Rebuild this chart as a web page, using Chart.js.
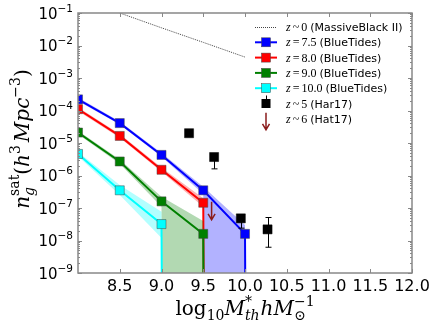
<!DOCTYPE html>
<html>
<head>
<meta charset="utf-8">
<script src="https://cdn.jsdelivr.net/npm/chart.js@4.4.0/dist/chart.umd.min.js"></script>
<style>
  html, body { margin: 0; padding: 0; background: #fff; }
  #wrap { width: 436px; height: 327px; }
</style>
</head>
<body>
<div id="wrap"><canvas id="myChart" width="436" height="327"></canvas></div>
<script>
// mass bins (log10 M*_th)
var massBins = [8.0, 8.5, 9.0, 9.5, 10.0, 10.5];
// empty bin: matplotlib clips 0 on a log axis, which gives the vertical drop
var NONE = 1e-250;

// BlueTides satellite densities, with band edges
var z75 = [2.2e-4, 4.1e-5, 4.3e-6, 3.5e-7, 1.6e-8, NONE];
var z75Hi = [2.5e-4, 4.6e-5, 4.9e-6, 4.5e-7, 3.0e-8, NONE];
var z75Lo = [1.95e-4, 3.7e-5, 3.8e-6, 2.7e-7, NONE, NONE];

var z80 = [1.1e-4, 1.65e-5, 1.5e-6, 1.45e-7, NONE, NONE];
var z80Hi = [1.25e-4, 1.9e-5, 1.75e-6, 2.0e-7, NONE, NONE];
var z80Lo = [0.97e-4, 1.45e-5, 1.3e-6, 1.1e-7, NONE, NONE];

var z90 = [2.1e-5, 2.7e-6, 1.6e-7, 1.6e-8, NONE, NONE];
var z90Hi = [2.4e-5, 3.1e-6, 2.2e-7, 4.0e-8, NONE, NONE];
var z90Lo = [1.85e-5, 2.3e-6, 1.1e-7, NONE, NONE, NONE];

var z100 = [4.6e-6, 3.5e-7, 3.2e-8, NONE, NONE, NONE];
var z100Hi = [5.3e-6, 5.1e-7, 7.6e-8, NONE, NONE, NONE];
var z100Lo = [3.9e-6, 2.5e-7, 1.2e-8, NONE, NONE, NONE];

// MassiveBlack II, z~0
var mbX = [8.5, 9.0, 9.5, 10.0];
var mbY = [0.1, 0.035, 0.0125, 0.0044];

// Har17 z~5 with errors
var har17X = [9.33, 9.63, 9.95, 10.27];
var har17Y = [2.0e-5, 3.7e-6, 4.8e-8, 2.2e-8];
var har17Lo = [1.8e-5, 1.6e-6, 2.4e-8, 6.2e-9];
var har17Hi = [2.2e-5, 4.5e-6, 5.5e-8, 5.1e-8];

// Hat17 z~6 upper limit
var hat17X = [9.6];
var hat17Y = [1.55e-7];

// ticks
var xTicks = [8.5, 9.0, 9.5, 10.0, 10.5, 11.0, 11.5, 12.0];
var xTickLabels = ['8.5', '9.0', '9.5', '10.0', '10.5', '11.0', '11.5', '12.0'];
var yExponents = [-1, -2, -3, -4, -5, -6, -7, -8, -9];

// legend text
var legendZ = ['0', '7.5', '8.0', '9.0', '10.0', '5', '6'];
var legendRel = ['~', '=', '=', '=', '=', '~', '~'];
var legendSrc = ['MassiveBlack II', 'BlueTides', 'BlueTides', 'BlueTides', 'BlueTides', 'Har17', 'Hat17'];

var SANS = '"DejaVu Sans", sans-serif';
var SERIF = '"DejaVu Serif", serif';
var MATH = '"Liberation Serif", serif';

function pts(xs, ys) {
  return ys.map(function(y, i) { return {x: xs[i], y: y}; });
}

var blueTides = [
  {vals: z75, hi: z75Hi, lo: z75Lo, color: '#0000ff', band: 'rgba(0,0,255,0.3)'},
  {vals: z80, hi: z80Hi, lo: z80Lo, color: '#ff0000', band: 'rgba(255,0,0,0.3)'},
  {vals: z90, hi: z90Hi, lo: z90Lo, color: '#008000', band: 'rgba(0,128,0,0.3)'},
  {vals: z100, hi: z100Hi, lo: z100Lo, color: '#00ffff', band: 'rgba(0,255,255,0.3)'}
];

var datasets = [];
datasets.push({
  data: pts(mbX, mbY), borderColor: '#444', borderWidth: 1, borderDash: [1, 1],
  pointRadius: 0, fill: false
});
blueTides.forEach(function(s) {
  datasets.push({data: pts(massBins, s.hi), borderColor: 'rgba(0,0,0,0)', borderWidth: 0,
                 pointRadius: 0, fill: false});
  datasets.push({data: pts(massBins, s.lo), borderColor: 'rgba(0,0,0,0)', borderWidth: 0,
                 pointRadius: 0, fill: '-1', backgroundColor: s.band});
  datasets.push({data: pts(massBins, s.vals), borderColor: s.color, borderWidth: 2,
                 pointStyle: 'rect', pointRadius: 6.4, pointBackgroundColor: s.color,
                 pointBorderColor: '#444', pointBorderWidth: 0.5, fill: false});
});
var harIdx = datasets.length;
datasets.push({data: pts(har17X, har17Y), showLine: false, pointStyle: 'rect', pointRadius: 6.4,
               pointBackgroundColor: '#000', pointBorderColor: '#000', pointBorderWidth: 0.5});
// later datasets go on top, like the plotting order
datasets.forEach(function(d, i) { d.order = datasets.length - i; });

// draws a row of text pieces (super/subscripts), returns width
function runs(ctx, list, x, y, dry) {
  var cx = x, stackW = 0;
  list.forEach(function(r) {
    ctx.font = r.f;
    var w = ctx.measureText(r.t).width;
    if (!dry) ctx.fillText(r.t, cx, y + (r.dy || 0));
    if (r.stack) {
      stackW = Math.max(stackW, w);
    } else {
      cx += Math.max(w, stackW) + (r.gap || 0);
      stackW = 0;
    }
  });
  return cx - x;
}

function arrow(ctx, px, py, len) {
  ctx.beginPath();
  ctx.moveTo(px, py);
  ctx.lineTo(px, py + len);
  ctx.moveTo(px - 3.5, py + len - 6);
  ctx.lineTo(px, py + len);
  ctx.lineTo(px + 3.5, py + len - 6);
  ctx.stroke();
}

var decorPlugin = {
  id: 'decor',
  beforeDatasetDraw: function(chart, args) {
    if (args.index !== harIdx) return;
    var ctx = chart.ctx, xs = chart.scales.x, ys = chart.scales.y;
    ctx.save();
    ctx.strokeStyle = '#000';
    ctx.lineWidth = 1;
    har17X.forEach(function(x, i) {
      var px = Math.round(xs.getPixelForValue(x)) + 0.5;
      var lo = ys.getPixelForValue(har17Lo[i]), hi = ys.getPixelForValue(har17Hi[i]);
      ctx.beginPath();
      ctx.moveTo(px, lo); ctx.lineTo(px, hi);
      ctx.moveTo(px - 3, lo); ctx.lineTo(px + 3, lo);
      ctx.moveTo(px - 3, hi); ctx.lineTo(px + 3, hi);
      ctx.stroke();
    });
    ctx.restore();
  },
  afterDraw: function(chart) {
    var ctx = chart.ctx, xs = chart.scales.x, ys = chart.scales.y;
    var a = chart.chartArea;
    ctx.save();

    // Hat17 upper limit arrow
    ctx.strokeStyle = '#8b1c1c';
    ctx.lineWidth = 1.5;
    hat17X.forEach(function(x, i) {
      arrow(ctx, xs.getPixelForValue(x), ys.getPixelForValue(hat17Y[i]), 18);
    });

    // frame
    ctx.strokeStyle = '#888';
    ctx.lineWidth = 1.5;
    ctx.strokeRect(a.left, a.top, a.right - a.left, a.bottom - a.top);

    // inward ticks
    ctx.lineWidth = 1;
    ctx.beginPath();
    xTicks.forEach(function(v) {
      var px = Math.round(xs.getPixelForValue(v)) + 0.5;
      ctx.moveTo(px, a.bottom); ctx.lineTo(px, a.bottom - 4);
      ctx.moveTo(px, a.top); ctx.lineTo(px, a.top + 4);
    });
    yExponents.forEach(function(e) {
      for (var m = 1; m < 10; m++) {
        var v = m * Math.pow(10, e);
        if (v > 0.1 * 1.0001) continue;
        var py = Math.round(ys.getPixelForValue(v)) + 0.5;
        var len = m === 1 ? 4 : 2;
        ctx.moveTo(a.left, py); ctx.lineTo(a.left + len, py);
        ctx.moveTo(a.right, py); ctx.lineTo(a.right - len, py);
      }
    });
    ctx.stroke();

    // tick labels
    ctx.fillStyle = '#000';
    ctx.textBaseline = 'alphabetic';
    ctx.textAlign = 'center';
    ctx.font = '16px ' + SANS;
    xTicks.forEach(function(v, i) {
      ctx.fillText(xTickLabels[i], xs.getPixelForValue(v), 291);
    });
    ctx.textAlign = 'left';
    yExponents.forEach(function(e) {
      var py = ys.getPixelForValue(Math.pow(10, e));
      var lab = [{t: '10', f: '15px ' + SANS}, {t: '\u2212' + (-e), f: '10.5px ' + SANS, dy: -7}];
      var w = runs(ctx, lab, 0, 0, true);
      runs(ctx, lab, 73 - w, py + 5.5);
    });

    // x title
    var big = '20px ' + SERIF, bigI = 'italic 20px ' + SERIF;
    var sm = '14px ' + SERIF, smI = 'italic 14px ' + SERIF;
    var xt = [
      {t: 'log', f: big}, {t: '10', f: sm, dy: 5},
      {t: 'M', f: bigI}, {t: '*', f: sm, dy: -9, stack: true}, {t: 'th', f: smI, dy: 5, gap: 1},
      {t: 'h', f: bigI}, {t: 'M', f: bigI},
      {t: '\u22121', f: sm, dy: -9, stack: true}, {t: '\u2299', f: sm, dy: 5}
    ];
    var xw = runs(ctx, xt, 0, 0, true);
    runs(ctx, xt, (a.left + a.right) / 2 - xw / 2, 315);

    // y title, rotated
    var yt = [
      {t: 'n', f: bigI}, {t: 'sat', f: sm, dy: -10, stack: true}, {t: 'g', f: smI, dy: 5},
      {t: '(', f: big}, {t: 'h', f: bigI}, {t: '3', f: sm, dy: -9, gap: 3},
      {t: 'Mpc', f: bigI}, {t: '\u22123', f: sm, dy: -9}, {t: ')', f: big}
    ];
    var yw = runs(ctx, yt, 0, 0, true);
    ctx.save();
    ctx.translate(29, 139);
    ctx.rotate(-Math.PI / 2);
    runs(ctx, yt, -yw / 2, 0);
    ctx.restore();

    // legend
    var lx0 = 255, lx1 = 277, lmid = 266, tx = 286;
    var colors = [null, '#0000ff', '#ff0000', '#008000', '#00ffff'];
    for (var i = 0; i < legendZ.length; i++) {
      var ly = 27 + i * 15.3;
      if (i === 0) {
        ctx.strokeStyle = '#444'; ctx.lineWidth = 1; ctx.setLineDash([1, 1]);
        ctx.beginPath(); ctx.moveTo(lx0, ly + 0.5); ctx.lineTo(lx1, ly + 0.5); ctx.stroke();
        ctx.setLineDash([]);
      } else if (i <= 4) {
        ctx.strokeStyle = colors[i]; ctx.lineWidth = 2;
        ctx.beginPath(); ctx.moveTo(lx0, ly); ctx.lineTo(lx1, ly); ctx.stroke();
        ctx.fillStyle = colors[i];
        ctx.fillRect(lmid - 4.5, ly - 4.5, 9, 9);
        ctx.strokeStyle = '#444'; ctx.lineWidth = 0.5;
        ctx.strokeRect(lmid - 4.5, ly - 4.5, 9, 9);
      } else if (i === 5) {
        ctx.strokeStyle = '#000'; ctx.lineWidth = 1;
        ctx.beginPath(); ctx.moveTo(lmid + 0.5, ly - 8); ctx.lineTo(lmid + 0.5, ly); ctx.stroke();
        ctx.fillStyle = '#000';
        ctx.fillRect(lmid - 4.5, ly - 4.5, 9, 9);
      } else {
        ctx.strokeStyle = '#8b1c1c'; ctx.lineWidth = 1.5;
        arrow(ctx, lmid, ly - 6, 17);
      }
      ctx.fillStyle = '#000';
      runs(ctx, [
        {t: 'z', f: 'italic 12px ' + MATH, gap: 2},
        {t: legendRel[i], f: '12px ' + MATH, gap: 2},
        {t: legendZ[i], f: '12px ' + MATH, gap: 3},
        {t: '(' + legendSrc[i] + ')', f: '11px ' + SANS}
      ], tx, ly + 4);
    }
    ctx.restore();
  }
};

var ctx = "myChart";
var myChart = new Chart(ctx, {
  type: 'line',
  data: {datasets: datasets},
  options: {
    responsive: false,
    animation: false,
    devicePixelRatio: 1,
    layout: {padding: {left: 78, right: 24, top: 13, bottom: 54}},
    scales: {
      x: {type: 'linear', min: 8, max: 12, display: false},
      y: {type: 'logarithmic', min: 1e-9, max: 0.1, display: false}
    },
    elements: {line: {tension: 0}},
    plugins: {
      legend: {display: false},
      tooltip: {enabled: false},
      filler: {propagate: false}
    }
  },
  plugins: [decorPlugin]
});
</script>
</body>
</html>
